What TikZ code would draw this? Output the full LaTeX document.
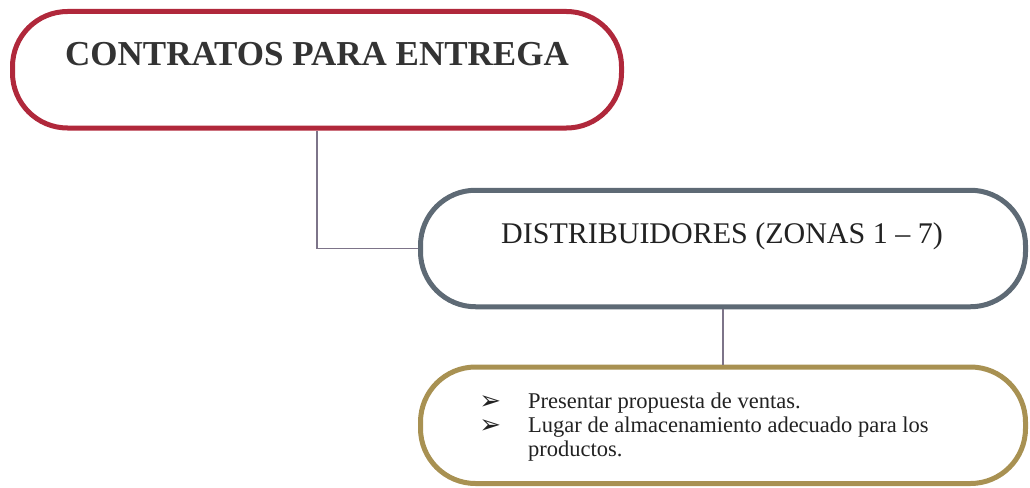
\documentclass[tikz,border=0pt]{standalone}
\usepackage{fontspec}
\setmainfont{Liberation Serif}
\newfontfamily\symfont{DejaVu Sans}
\definecolor{boxred}{HTML}{B0283B}
\definecolor{boxgray}{HTML}{5E6A75}
\definecolor{boxgold}{HTML}{A89152}
\definecolor{connc}{HTML}{7D7489}
\definecolor{txtgray}{HTML}{333333}
\definecolor{txtdark}{HTML}{222222}
\newcommand{\bulmark}{\llap{{\symfont\fontsize{26}{24}\selectfont\raisebox{-1pt}{➢}}\hspace{27pt}}}
\begin{document}
\begin{tikzpicture}[x=1pt,y=-1pt,
  pill/.style={draw=#1, line width=5pt, rounded corners=55pt, minimum height=116.5pt, inner sep=0pt, fill=white},
  conn/.style={draw=connc, line width=1.6pt}]
\useasboundingbox (0,0) rectangle (1030,487);
\node[pill=boxred, minimum width=609pt] (c1) at (317,69.75) {};
\node[pill=boxgray, minimum width=605pt] (c2) at (723,248.5) {};
\node[pill=boxgold, minimum width=605pt] (c3) at (723,425.25) {};
\draw[conn] (c1.south) |- (c2.west);
\draw[conn] (c2.south) -- (c3.north);
\node[anchor=base, inner sep=0pt, text=txtgray, font=\bfseries\fontsize{35}{42}\selectfont] (t1) at (317,66) {CONTRATOS PARA ENTREGA};
\node[anchor=base, inner sep=0pt, text=txtdark, font=\fontsize{30}{36}\selectfont] (t2) at (722,243) {DISTRIBUIDORES (ZONAS 1 – 7)};
\node[anchor=base west, inner sep=0pt, text=txtdark, align=left, font=\fontsize{22.5}{24}\selectfont] (t3) at (528,456)
 {\bulmark Presentar propuesta de ventas.\\
  \bulmark Lugar de almacenamiento adecuado para los\\
  productos.};
\end{tikzpicture}
\end{document}
